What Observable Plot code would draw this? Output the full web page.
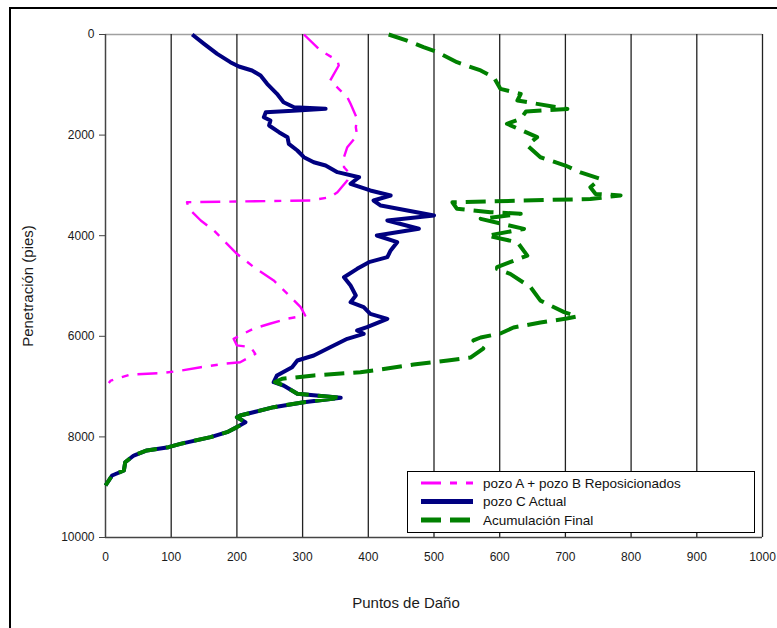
<!DOCTYPE html>
<html>
<head>
<meta charset="utf-8">
<script src="https://cdn.jsdelivr.net/npm/d3@7"></script>
<script src="https://cdn.jsdelivr.net/npm/@observablehq/plot@0.6"></script>
<style>
  body { margin: 0; background: #fff; overflow: hidden; font-family: "Liberation Sans", Arial, sans-serif; }
  #wrap { position: relative; width: 777px; height: 628px; overflow: hidden; }
  #border { position: absolute; left: 9px; top: 7px; width: 820px; height: 700px; border: 2px solid #000; box-sizing: border-box; }
  #chart { position: absolute; left: 0; top: 0; }
  #legend { position: absolute; left: 407px; top: 471px; width: 348px; height: 62px; border: 1.5px solid #000; background: #fff; box-sizing: border-box; }
  #legend svg { display: block; }
</style>
</head>
<body>
<div id="wrap">
  <div id="border"></div>
  <div id="chart"></div>
  <div id="legend"></div>
</div>
<script>
// Axis ticks
const xTicks = [0, 100, 200, 300, 400, 500, 600, 700, 800, 900, 1000];
const yTicks = [0, 2000, 4000, 6000, 8000, 10000];

// Series names
const seriesNames = ["pozo A + pozo B Reposicionados", "pozo C Actual", "Acumulación Final"];

// pozo A + pozo B Reposicionados: depth (pies) and damage points
const depthAB = [0, 318, 517, 616, 915, 1080, 1246, 1378, 1676, 1843, 2008, 2240, 2439, 2638, 2738, 2903, 3135, 3235, 3300, 3334,
  3466, 3698, 3897, 4161, 4360, 4626, 4890, 5155, 5421, 5586, 5652, 5750, 5850, 6050, 6180, 6215, 6350, 6515, 6547, 6615,
  6693, 6733, 6760, 6880, 6930];
const pointsAB = [302, 327, 353, 355, 342, 355, 368, 373, 383, 381, 383, 368, 363, 363, 370, 368, 353, 342, 312, 124,
  127, 145, 165, 185, 200, 226, 256, 277, 297, 304, 276, 250, 225, 195, 200, 221, 228, 205, 180, 145,
  109, 84, 38, 8, 5];

// pozo C Actual
const depthC = [0, 185, 384, 550, 636, 716, 815, 980, 1179, 1346, 1445, 1477, 1511, 1545, 1644, 1710, 1809, 1942, 2041, 2173,
  2306, 2439, 2539, 2604, 2737, 2837, 2968, 3101, 3201, 3300, 3400, 3598, 3698, 3863, 3996, 4129, 4294, 4427, 4526, 4659,
  4825, 4990, 5189, 5322, 5421, 5553, 5652, 5819, 5885, 5951, 6050, 6217, 6382, 6481, 6614, 6779, 6912, 6978, 7143, 7223,
  7310, 7409, 7575, 7608, 7707, 7806, 7906, 8005, 8138, 8204, 8270, 8370, 8503, 8668, 8767, 8966];
const pointsC = [132, 150, 170, 190, 203, 223, 236, 246, 261, 271, 287, 335, 292, 244, 241, 251, 249, 264, 277, 279,
  292, 302, 317, 335, 353, 386, 373, 403, 434, 408, 419, 500, 429, 477, 413, 444, 434, 429, 401, 383,
  363, 373, 381, 373, 393, 403, 429, 398, 383, 393, 368, 342, 317, 292, 284, 261, 256, 271, 292, 358,
  302, 256, 205, 200, 213, 200, 185, 160, 114, 96, 63, 43, 30, 28, 10, 0];

// Acumulación Final
const depthFinal = [0, 120, 250, 350, 550, 715, 850, 1080, 1180, 1312, 1480, 1530, 1675, 1775, 2040, 2205, 2440, 2605, 2740, 2870,
  3035, 3170, 3200, 3270, 3335, 3465, 3532, 3565, 3665, 3865, 4000, 4130, 4395, 4625, 4660, 4760, 5025, 5290, 5520, 5605,
  5646, 5726, 5825, 5944, 6024, 6083, 6243, 6421, 6481, 6560, 6646, 6713, 6779, 6845, 6912,
  6978, 7143, 7223, 7310, 7409, 7575, 7608, 7707, 7806, 7906, 8005, 8138, 8204, 8270, 8370, 8503, 8668, 8767, 8966];
const pointsFinal = [431, 459, 484, 505, 535, 571, 591, 601, 632, 627, 703, 640, 632, 611, 657, 642, 662, 700, 723, 753,
  738, 746, 784, 738, 528, 535, 586, 632, 571, 637, 581, 627, 642, 596, 596, 616, 647, 662, 698, 718,
  702, 662, 621, 601, 571, 560, 575, 556, 521, 469, 426, 388, 317, 269, 258,
  271, 292, 358, 302, 256, 205, 200, 213, 200, 185, 160, 114, 96, 63, 43, 30, 28, 10, 0];

// Line styles per series
const colors = ["#ff00ff", "#000080", "#008000"];
const widths = [2.4, 4, 4];
const dashes = ["20,9,7,9", null, "20,9"];

const rows = (depths, values) => depths.map((d, i) => ({depth: d, value: values[i]}));
const series = [rows(depthAB, pointsAB), rows(depthC, pointsC), rows(depthFinal, pointsFinal)];

const font = "'Liberation Sans', Arial, sans-serif";

const lineMarks = series.map((data, i) => Plot.line(data, {
  x: "value", y: "depth",
  stroke: colors[i], strokeWidth: widths[i],
  strokeDasharray: dashes[i] ?? undefined,
  strokeLinejoin: "round", strokeLinecap: "butt"
}));

const chart = Plot.plot({
  width: 777,
  height: 628,
  marginLeft: 105,
  marginRight: 15,
  marginTop: 34,
  marginBottom: 91,
  style: {fontFamily: font, fontSize: "12px", color: "#1a1a1a", background: "transparent"},
  x: {domain: [0, 1000]},
  y: {domain: [0, 10000], reverse: true},
  marks: [
    Plot.ruleY([0], {stroke: "#a0a0a0", strokeWidth: 1.5}),
    Plot.ruleX(xTicks.slice(1), {stroke: "#222", strokeWidth: 1.3}),
    Plot.ruleX([0], {stroke: "#444", strokeWidth: 1.5}),
    Plot.ruleY([10000], {stroke: "#444", strokeWidth: 1.5}),
    Plot.axisX({ticks: xTicks, tickSize: 0, tickPadding: 15, label: null, tickFormat: d3.format("d")}),
    Plot.axisY({ticks: yTicks, tickSize: 6, tickPadding: 5, label: null, tickFormat: d3.format("d"), stroke: "#444"}),
    ...lineMarks,
    Plot.text(["Puntos de Daño"], {text: d => d, frameAnchor: "bottom", lineAnchor: "middle", textAnchor: "middle", dx: -28, dy: 66, fontSize: 15, fill: "#1a1a1a"}),
    Plot.text(["Penetración (pies)"], {text: d => d, frameAnchor: "left", lineAnchor: "middle", textAnchor: "middle", rotate: -90, dx: -77, fontSize: 15, fill: "#1a1a1a"})
  ]
});
document.getElementById("chart").appendChild(chart);

// Legend box inside the plot area
const leg = d3.select("#legend").append("svg").attr("width", 345).attr("height", 59);
seriesNames.forEach((name, i) => {
  const cy = 11 + i * 18.5;
  leg.append("line")
    .attr("x1", 13).attr("x2", 65).attr("y1", cy).attr("y2", cy)
    .attr("stroke", colors[i])
    .attr("stroke-width", i === 0 ? 3 : 5)
    .attr("stroke-dasharray", dashes[i]);
  leg.append("text")
    .attr("x", 75).attr("y", cy).attr("dy", "0.35em")
    .attr("font-family", font).attr("font-size", 13.5).attr("fill", "#111")
    .text(name);
});
</script>
</body>
</html>
